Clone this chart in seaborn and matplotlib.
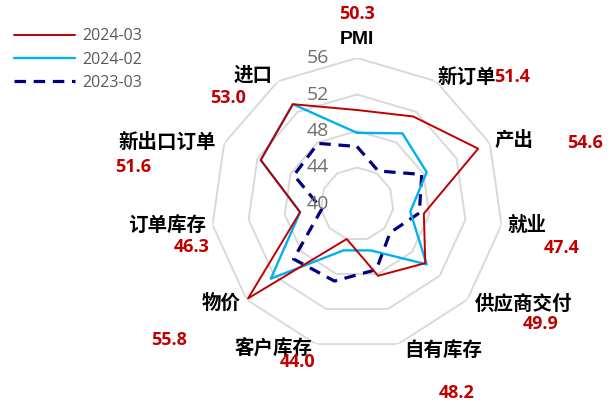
import numpy as np
import pandas as pd
import matplotlib
matplotlib.use("Agg")
import matplotlib.pyplot as plt
import seaborn as sns

# ISM manufacturing PMI and sub-indices
categories = ["PMI", "新订单", "产出", "就业", "供应商交付", "自有库存",
              "客户库存", "物价", "订单库存", "新出口订单", "进口"]
series_names = ["2024-03", "2024-02", "2023-03"]
values_2024_03 = [50.3, 51.4, 54.6, 47.4, 49.9, 48.2, 44.0, 55.8, 46.3, 51.6, 53.0]
values_2024_02 = [47.8, 49.2, 48.4, 45.9, 50.1, 45.3, 45.3, 52.5, 46.3, 51.6, 53.0]
values_2023_03 = [46.3, 44.3, 47.8, 46.9, 44.8, 47.5, 48.8, 49.2, 43.9, 47.6, 47.9]
ring_levels = [44, 48, 52, 56]
tick_labels = ["40", "44", "48", "52", "56"]
r_min, r_max = 40, 56

sns.set_theme(style="white")
plt.rcParams["font.family"] = ["Open Sans", "Noto Sans CJK SC", "DejaVu Sans"]

W, H = 611, 403
fig = plt.figure(figsize=(W / 100, H / 100), dpi=100)
fig.patch.set_facecolor("white")

# polar axes centred at (357, 204) px, outer ring radius 146 px
cx, cy, R = 357, 204, 146
ax = fig.add_axes([(cx - R) / W, (H - cy - R) / H, 2 * R / W, 2 * R / H],
                  projection="polar")
ax.set_theta_zero_location("N")
ax.set_theta_direction(-1)
ax.set_ylim(r_min, r_max)
ax.set_xticks([])
ax.set_yticks([])
ax.grid(False)
ax.spines["polar"].set_visible(False)
ax.set_facecolor("none")

n = len(categories)
theta = np.arange(n) * 2 * np.pi / n
theta_closed = np.append(theta, 2 * np.pi)

# polygonal grid rings
for lvl in ring_levels:
    ax.plot(theta_closed, [lvl] * (n + 1), color="#D9D9D9", lw=1.4, zorder=1)

styles = {
    "2024-03": dict(color="#C00000", lw=1.4, ls="-", z=4),
    "2024-02": dict(color="#00B0F0", lw=1.7, ls="-", z=3),
    "2023-03": dict(color="#000080", lw=2.3, ls=(0, (3.6, 2.4)), z=2),
}
all_values = {"2024-03": values_2024_03, "2024-02": values_2024_02,
              "2023-03": values_2023_03}

for name in series_names:
    vals = all_values[name]
    df = pd.DataFrame({"theta": theta_closed, "value": vals + [vals[0]]})
    st = styles[name]
    sns.lineplot(data=df, x="theta", y="value", sort=False, estimator=None,
                 ax=ax, color=st["color"], linewidth=st["lw"],
                 linestyle=st["ls"], label=name, zorder=st["z"])

ax.set_xlabel("")
ax.set_ylabel("")
handles, labels = ax.get_legend_handles_labels()
ax.get_legend().remove()

# radial tick labels along the top spoke
for lbl in tick_labels:
    ax.annotate(lbl, xy=(0, float(lbl)), xytext=(-28, 0),
                textcoords="offset pixels", ha="right", va="center",
                fontsize=14, color="#6E6E6E", family=["Open Sans"], zorder=5)

def px(x, y):
    return x / W, (H - y) / H

# category labels and 2024-03 values (pixel positions, top-left origin)
name_pos = [(357, 40), (467, 77), (514, 141), (527, 225), (523, 304),
            (443, 350), (273, 348), (221, 303), (167, 225), (167, 142),
            (253, 75)]
value_pos = [(357, 14), (512, 77), (585, 143), (562, 248), (541, 324),
             (457, 393), (298, 362), (169, 340), (192, 247), (133, 167),
             (228, 98)]

for i, cat in enumerate(categories):
    x, y = px(*name_pos[i])
    if cat == "PMI":
        fig.text(x, y, cat, ha="center", va="center", fontsize=14,
                 fontweight="bold", family=["Liberation Sans"], color="black")
    else:
        fig.text(x, y, cat, ha="center", va="center", fontsize=14,
                 fontweight="bold", family=["Noto Sans CJK SC"], color="black")
    x, y = px(*value_pos[i])
    fig.text(x, y, f"{values_2024_03[i]:.1f}", ha="center", va="center",
             fontsize=13, fontweight="bold", family=["Open Sans"],
             color="#C00000", zorder=6)

leg = fig.legend(handles, labels, loc="upper left",
                 bbox_to_anchor=(8 / W, 1 - 22 / H), frameon=False,
                 fontsize=11.5, handlelength=3.8, handletextpad=0.45,
                 labelspacing=0.45, borderaxespad=0)
for t in leg.get_texts():
    t.set_color("#595959")

fig.savefig("out.png", dpi=100, facecolor="white")
